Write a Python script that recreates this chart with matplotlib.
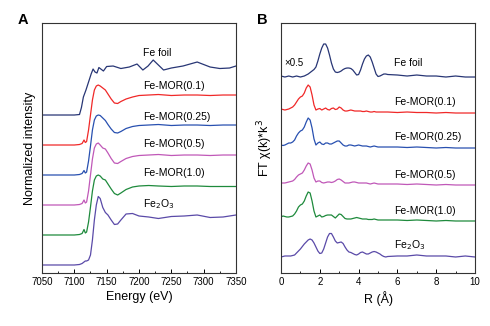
import numpy as np
import matplotlib
matplotlib.use("Agg")
import matplotlib.pyplot as plt
from matplotlib.ticker import MultipleLocator

plt.rcParams['font.family'] = ['Liberation Sans', 'DejaVu Sans']

# ---- panel A: XANES (normalized, before offset) ----
energy_mor = [7050, 7100, 7108, 7112, 7115, 7117, 7119, 7122, 7125, 7128, 7131, 7134,
              7137, 7140, 7144, 7148, 7152, 7157, 7162, 7167, 7172, 7180, 7190, 7200,
              7215, 7230, 7250, 7270, 7290, 7310, 7330, 7350]
mu_mor_01 = [0, 0, 0.01, 0.03, 0.10, 0.05, 0.07, 0.30, 0.60, 0.90, 1.10, 1.18,
             1.20, 1.18, 1.14, 1.10, 1.02, 0.92, 0.84, 0.83, 0.87, 0.92, 0.96, 0.99,
             1.00, 1.01, 0.99, 1.00, 1.00, 0.99, 1.00, 1.00]
mu_mor_025 = [0, 0, 0.01, 0.03, 0.09, 0.04, 0.06, 0.28, 0.58, 0.90, 1.10, 1.18,
              1.20, 1.19, 1.14, 1.09, 1.01, 0.92, 0.85, 0.84, 0.87, 0.93, 0.97, 0.99,
              1.00, 1.01, 0.99, 1.00, 1.00, 0.99, 1.00, 1.00]
mu_mor_05 = [0, 0, 0.01, 0.03, 0.10, 0.04, 0.06, 0.28, 0.60, 0.92, 1.14, 1.22,
             1.24, 1.20, 1.14, 1.12, 1.04, 0.93, 0.84, 0.83, 0.87, 0.93, 0.97, 0.99,
             1.00, 1.01, 0.99, 1.00, 1.00, 0.99, 1.00, 1.00]
mu_mor_10 = [0, 0, 0.01, 0.03, 0.11, 0.04, 0.06, 0.26, 0.56, 0.88, 1.10, 1.18,
             1.20, 1.18, 1.12, 1.10, 1.02, 0.92, 0.83, 0.80, 0.84, 0.91, 0.96, 0.98,
             0.99, 0.98, 0.97, 0.98, 0.98, 0.97, 0.97, 0.97]
mu_fe2o3 = [0, 0, 0.01, 0.03, 0.06, 0.08, 0.08, 0.10, 0.20, 0.50, 0.90, 1.20,
            1.37, 1.33, 1.15, 1.05, 1.00, 0.90, 0.81, 0.82, 0.90, 1.02, 1.03, 0.98,
            0.96, 0.93, 0.97, 0.98, 1.00, 0.95, 0.96, 1.00]

energy_foil = [7050, 7100, 7108, 7111, 7114, 7118, 7122, 7126, 7129, 7132, 7135, 7138,
               7141, 7145, 7150, 7160, 7172, 7185, 7197, 7206, 7214, 7222, 7230, 7238,
               7250, 7268, 7290, 7310, 7325, 7340, 7350]
mu_foil = [0, 0, 0.01, 0.15, 0.36, 0.50, 0.66, 0.82, 0.92, 0.86, 0.84, 0.95,
           0.92, 0.88, 0.97, 0.98, 0.93, 0.96, 1.02, 0.90, 0.98, 1.10, 1.00, 0.90,
           0.94, 0.98, 1.06, 0.96, 0.93, 0.94, 0.98]

# ---- panel B: FT-EXAFS (before offset) ----
r_grid = [0.0, 0.1, 0.2, 0.3, 0.4, 0.5, 0.6, 0.7, 0.8, 0.9,
          1.0, 1.1, 1.2, 1.3, 1.4, 1.5, 1.6, 1.7, 1.8, 1.9,
          2.0, 2.1, 2.2, 2.3, 2.4, 2.5, 2.6, 2.7, 2.8, 2.9,
          3.0, 3.1, 3.2, 3.3, 3.4, 3.5, 3.6, 3.7, 3.8, 3.9,
          4.0, 4.1, 4.2, 4.3, 4.4, 4.5, 4.6, 4.7, 4.8, 4.9,
          5.0, 5.1, 5.2, 5.3, 5.4, 5.5,
          6.0, 6.5, 7.0, 7.5, 8.0, 8.5, 9.0, 9.5, 10.0]
ft_foil = [0.1, 0.05, 0.0, 0.05, 0.1, 0.05, 0.0, 0.05, 0.1, 0.05,
           0.0, 0.05, 0.1, 0.2, 0.3, 0.45, 0.6, 0.75, 1.0, 1.6,
           2.3, 2.9, 3.3, 3.3, 2.9, 2.2, 1.4, 0.8, 0.5, 0.45,
           0.5, 0.6, 0.75, 0.85, 0.9, 0.9, 0.85, 0.7, 0.45, 0.2,
           0.25, 0.7, 1.3, 1.8, 2.1, 2.2, 2.0, 1.5, 0.9, 0.3,
           0.05, 0.1, 0.2, 0.3, 0.3, 0.25,
           0.2, 0.1, 0.2, 0.1, 0.1, 0.0, 0.1, 0.0, 0.0]
ft_mor_01 = [0.4, 0.35, 0.3, 0.35, 0.4, 0.5, 0.6, 0.8, 1.1, 1.4,
             1.6, 1.7, 2.0, 2.5, 2.8, 2.6, 1.8, 0.8, 0.3, 0.4,
             0.45, 0.3, 0.4, 0.5, 0.35, 0.3, 0.45, 0.5, 0.35, 0.4,
             0.6, 0.5, 0.3, 0.2, 0.2, 0.25, 0.3, 0.25, 0.2, 0.2,
             0.2, 0.2, 0.15, 0.15, 0.2, 0.15, 0.1, 0.1, 0.15, 0.1,
             0.1, 0.1, 0.1, 0.1, 0.1, 0.1,
             0.05, 0.1, 0.05, 0.05, 0.0, 0.05, 0.0, 0.0, 0.0]
ft_mor_025 = [0.3, 0.25, 0.3, 0.4, 0.5, 0.5, 0.6, 0.8, 1.2, 1.5,
              1.7, 1.8, 2.1, 2.6, 3.0, 2.8, 2.0, 0.9, 0.3, 0.5,
              0.6, 0.4, 0.35, 0.5, 0.5, 0.4, 0.4, 0.5, 0.6, 0.7,
              0.7, 0.5, 0.3, 0.2, 0.2, 0.3, 0.3, 0.25, 0.2, 0.25,
              0.3, 0.25, 0.2, 0.2, 0.2, 0.15, 0.1, 0.15, 0.2, 0.15,
              0.1, 0.1, 0.1, 0.1, 0.1, 0.1,
              0.1, 0.05, 0.1, 0.05, 0.0, 0.05, 0.0, 0.0, 0.0]
ft_mor_05 = [0.2, 0.2, 0.2, 0.25, 0.3, 0.35, 0.4, 0.55, 0.8, 1.0,
             1.1, 1.2, 1.5, 1.9, 2.2, 2.1, 1.5, 0.7, 0.3, 0.4,
             0.4, 0.25, 0.2, 0.25, 0.3, 0.3, 0.25, 0.3, 0.4, 0.55,
             0.6, 0.5, 0.35, 0.2, 0.2, 0.2, 0.25, 0.3, 0.3, 0.25,
             0.2, 0.2, 0.2, 0.2, 0.2, 0.15, 0.1, 0.15, 0.2, 0.15,
             0.1, 0.1, 0.1, 0.1, 0.1, 0.1,
             0.1, 0.05, 0.1, 0.05, 0.0, 0.05, 0.0, 0.0, 0.0]
ft_mor_10 = [0.4, 0.5, 0.45, 0.4, 0.4, 0.45, 0.5, 0.7, 1.0, 1.4,
             1.6, 1.7, 2.0, 2.5, 2.9, 2.8, 2.0, 1.0, 0.4, 0.5,
             0.6, 0.4, 0.45, 0.55, 0.6, 0.6, 0.6, 0.45, 0.3, 0.5,
             0.7, 0.65, 0.45, 0.25, 0.2, 0.2, 0.2, 0.25, 0.3, 0.35,
             0.3, 0.25, 0.2, 0.2, 0.2, 0.15, 0.15, 0.15, 0.2, 0.15,
             0.1, 0.1, 0.1, 0.1, 0.1, 0.1,
             0.1, 0.05, 0.1, 0.05, 0.0, 0.05, 0.0, 0.0, 0.0]
ft_fe2o3 = [0.0, 0.05, 0.1, 0.1, 0.1, 0.1, 0.15, 0.2, 0.4, 0.6,
            0.8, 1.05, 1.3, 1.5, 1.7, 1.8, 1.7, 1.4, 1.0, 0.6,
            0.35, 0.4, 0.8, 1.4, 2.0, 2.35, 2.35, 2.0, 1.6, 1.4,
            1.45, 1.5, 1.35, 1.0, 0.7, 0.5, 0.45, 0.35, 0.25, 0.2,
            0.3, 0.45, 0.5, 0.4, 0.3, 0.3, 0.4, 0.5, 0.55, 0.5,
            0.4, 0.3, 0.15, 0.05, 0.0, 0.05,
            0.1, 0.1, 0.2, 0.1, 0.1, 0.1, 0.0, 0.1, 0.0]

names = ["Fe foil", "Fe-MOR(0.1)", "Fe-MOR(0.25)", "Fe-MOR(0.5)", "Fe-MOR(1.0)",
         "Fe$_2$O$_3$"]
colors = ["#283675", "#f02828", "#2850b0", "#c058b8", "#1e8a3c", "#5a4aa8"]
xanes_offsets = [3.0, 2.4, 1.8, 1.2, 0.6, 0.0]
ft_offsets = [19.6, 16.0, 12.5, 8.8, 5.2, 1.6]
xanes_label_y = [4.24, 3.58, 2.96, 2.42, 1.84, 1.22]
ft_label_y = [21.0, 17.1, 13.6, 9.8, 6.2, 2.8]

xanes_x = [energy_foil] + [energy_mor] * 5
xanes_y = [mu_foil, mu_mor_01, mu_mor_025, mu_mor_05, mu_mor_10, mu_fe2o3]
ft_y = [ft_foil, ft_mor_01, ft_mor_025, ft_mor_05, ft_mor_10, ft_fe2o3]

fig = plt.figure(figsize=(4.9, 3.26), dpi=100)
ax_a = fig.add_axes([0.0857, 0.1626, 0.3959, 0.7668])
ax_b = fig.add_axes([0.5735, 0.1626, 0.3959, 0.7668])

for i in range(len(names)):
    ax_a.plot(xanes_x[i], np.array(xanes_y[i]) + xanes_offsets[i],
              color=colors[i], lw=0.9)
    ax_a.text(7206, xanes_label_y[i], names[i], fontsize=7.5, va="center", ha="left")
    ax_b.plot(r_grid, np.array(ft_y[i]) + ft_offsets[i], color=colors[i], lw=0.9)
    ax_b.text(5.82, ft_label_y[i], names[i], fontsize=7.5, va="center", ha="left")

ax_b.text(0.15, 21.0, "×0.5", fontsize=7, va="center", ha="left")

ax_a.set_xlim(7050, 7350)
ax_a.set_ylim(-0.16, 4.84)
ax_a.xaxis.set_major_locator(MultipleLocator(50))
ax_a.xaxis.set_minor_locator(MultipleLocator(25))
ax_a.set_xlabel("Energy (eV)", fontsize=9, labelpad=3)
ax_a.set_ylabel("Normalized intensity", fontsize=9, labelpad=4)

ax_b.set_xlim(0, 10)
ax_b.set_ylim(0, 25)
ax_b.xaxis.set_major_locator(MultipleLocator(2))
ax_b.xaxis.set_minor_locator(MultipleLocator(1))
ax_b.set_xlabel("R (Å)", fontsize=9, labelpad=3)
ax_b.set_ylabel("FT χ(k)*k$^3$", fontsize=9, labelpad=4)

for ax in (ax_a, ax_b):
    ax.set_yticks([])
    ax.tick_params(axis="x", which="major", direction="in", length=3, width=0.7,
                   labelsize=7, pad=3)
    ax.tick_params(axis="x", which="minor", direction="in", length=1.5, width=0.6)
    for sp in ax.spines.values():
        sp.set_linewidth(0.8)
        sp.set_color("#333333")

fig.text(0.035, 0.94, "A", fontsize=10.5, fontweight="bold", va="center")
fig.text(0.525, 0.94, "B", fontsize=10.5, fontweight="bold", va="center")

fig.savefig("out.png", dpi=100)
